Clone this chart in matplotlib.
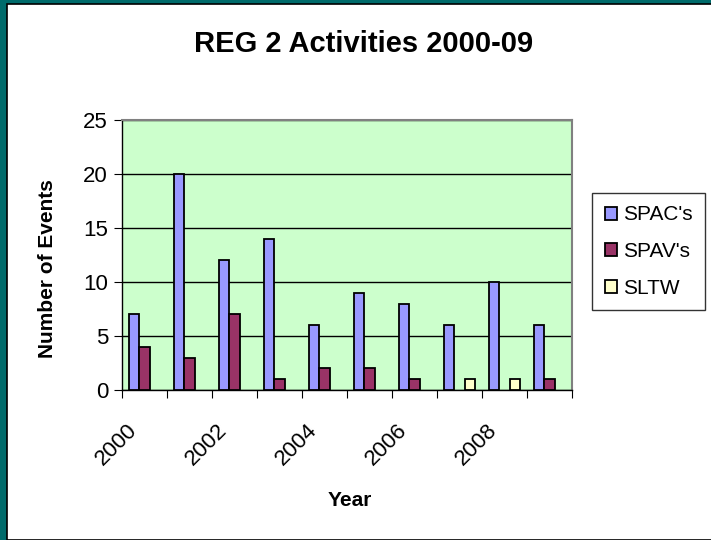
"""
REG 2 Activities 2000-09 - grouped bar chart
"""

import numpy as np
import matplotlib.pyplot as plt
import matplotlib.transforms as mtransforms
from matplotlib.patches import Rectangle

plt.rcParams['font.family'] = ['Liberation Sans', 'DejaVu Sans']

years = ["2000", "2001", "2002", "2003", "2004", "2005", "2006", "2007", "2008", "2009"]
spac = [7, 20, 12, 14, 6, 9, 8, 6, 10, 6]
spav = [4, 3, 7, 1, 2, 2, 1, 0, 0, 1]
sltw = [0, 0, 0, 0, 0, 0, 0, 1, 1, 0]

series = [("SPAC's", spac, "#9999ff"),
          ("SPAV's", spav, "#993366"),
          ("SLTW", sltw, "#ffffcc")]

W, H = 711, 540
fig = plt.figure(figsize=(W / 100, H / 100), dpi=100)
fig.patch.set_facecolor("#006b6b")
# white slide panel with thin black edge
fig.patches.append(Rectangle((7 / W, 0), 1, 1 - 4 / H, transform=fig.transFigure,
                             facecolor="white", edgecolor="black", linewidth=1.2,
                             zorder=-5))

ax = fig.add_axes([122 / W, 1 - 390 / H, (572 - 122) / W, (390 - 120) / H])
ax.set_zorder(2)
ax.set_facecolor("#ccffcc")

x = np.arange(len(years))
bw = 0.233
for i, (name, vals, col) in enumerate(series):
    # empty categories show nothing, not a flat outline
    h = np.where(np.array(vals) == 0, np.nan, vals)
    ax.bar(x + (i - 1) * bw, h, bw, color=col, edgecolor="black",
           linewidth=1.3, label=name, zorder=3)

ax.set_xlim(-0.5, len(years) - 0.5)
ax.set_ylim(0, 25)
ax.set_yticks(range(0, 26, 5))
ax.yaxis.grid(True, color="black", linewidth=1, zorder=1)
ax.set_axisbelow(True)

# tick marks between categories, labels on every other year
ax.set_xticks(np.arange(-0.5, len(years), 1))
ax.set_xticklabels([])
ax.set_xticks(x[::2], minor=True)
ax.set_xticklabels(years[::2], minor=True, rotation=45, ha="right",
                   rotation_mode="anchor", fontsize=16)
ax.tick_params(axis="x", which="minor", length=0, pad=14)
ax.tick_params(axis="x", which="major", length=6, direction="out", color="black")
ax.tick_params(axis="y", length=6, direction="out", labelsize=16, pad=4)
shift = mtransforms.ScaledTranslation(-0.18, -0.10, fig.dpi_scale_trans)
for lab in ax.get_xticklabels(minor=True):
    lab.set_transform(lab.get_transform() + shift)

for side in ["top", "right"]:
    ax.spines[side].set_color("#808080")
    ax.spines[side].set_linewidth(1.5)
for side in ["left", "bottom"]:
    ax.spines[side].set_color("black")
    ax.spines[side].set_linewidth(1)

fig.text(350 / W, 1 - 500 / H, "Year", fontsize=15, fontweight="bold",
         ha="center", va="center")
fig.text(48 / W, 1 - 269 / H, "Number of Events", fontsize=15, fontweight="bold",
         rotation=90, ha="center", va="center")
fig.text(364 / W, 1 - 44 / H, "REG 2 Activities 2000-09", fontsize=21,
         fontweight="bold", ha="center", va="center")

leg = ax.legend(loc="upper left", bbox_to_anchor=(592 / W, 1 - 193 / H),
                bbox_transform=fig.transFigure, fontsize=15, frameon=True,
                fancybox=False, handlelength=0.6, handleheight=0.6,
                handletextpad=0.3, borderpad=0.6, labelspacing=0.85,
                borderaxespad=0)
leg.get_frame().set_edgecolor("black")
leg.get_frame().set_linewidth(1)

fig.savefig("out.png", dpi=100, facecolor=fig.get_facecolor())
